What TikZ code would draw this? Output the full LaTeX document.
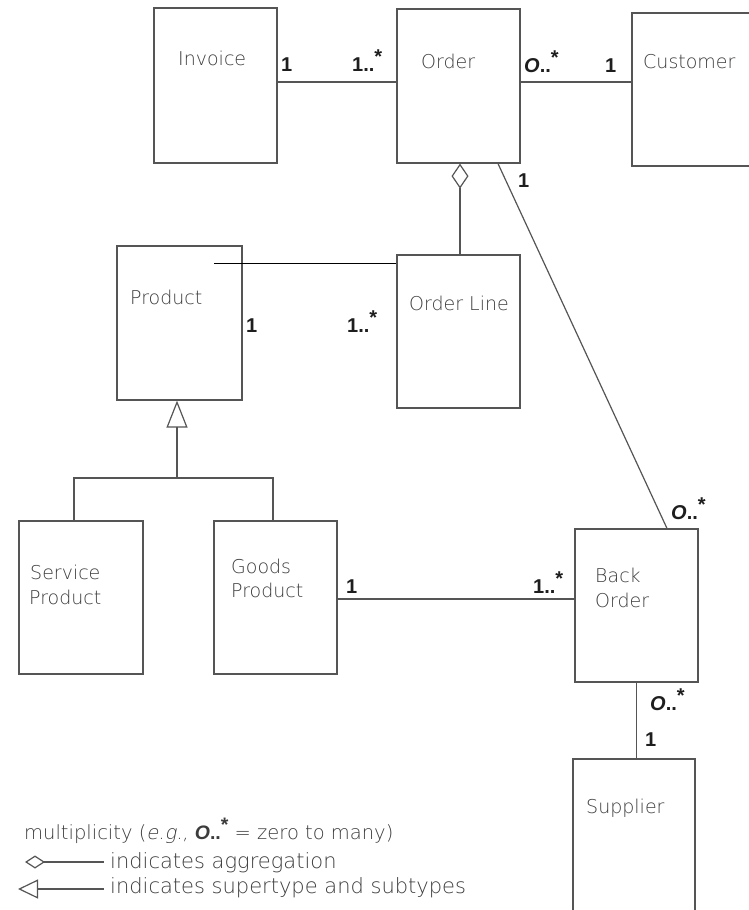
\documentclass[tikz,border=0pt]{standalone}
\usepackage{fontspec}
\usetikzlibrary{arrows.meta}
\newfontfamily\handfont{DejaVu Sans ExtraLight}
\newfontfamily\handitfont{DejaVu Sans ExtraLight}[FakeSlant=0.2]
\newfontfamily\multfont{Liberation Sans}
\definecolor{boxgray}{HTML}{555555}
\definecolor{textgray}{HTML}{3C3C3C}
\definecolor{multgray}{HTML}{1E1E1E}
% multiplicity marks
\newcommand\many{..\raisebox{0.38em}{*}}
\newcommand\oneof{1\many}
\newcommand\zeroof{{\itshape O}\many}
\tikzset{
  cls/.style={draw=boxgray, line width=1.2pt, rectangle, inner sep=0pt, fill=none},
  conn/.style={draw=boxgray, line width=1.2pt},
  hand/.style={anchor=base west, inner sep=0pt, text=textgray,
    font=\handfont\fontsize{19}{22}\selectfont},
  legend/.style={hand, font=\handfont\fontsize{21}{24}\selectfont},
  mult/.style={anchor=base west, inner sep=0pt, text=multgray,
    font=\multfont\bfseries\fontsize{20}{22}\selectfont},
}
\begin{document}
\begin{tikzpicture}[x=1pt,y=-1pt]
\clip (0,0) rectangle (749,910);
\fill[white] (0,0) rectangle (749,910);

% classes
\node[cls, minimum width=123pt, minimum height=155pt] (inv)   at (215.5,85.5) {};
\node[cls, minimum width=123pt, minimum height=154pt] (ord)   at (458.5,86)   {};
\node[cls, minimum width=148pt, minimum height=153pt] (cust)  at (706,89.5)   {};
\node[cls, minimum width=125pt, minimum height=154pt] (prod)  at (179.5,323)  {};
\node[cls, minimum width=123pt, minimum height=153pt] (oline) at (458.5,331.5) {};
\node[cls, minimum width=124pt, minimum height=153pt] (serv)  at (81,597.5)   {};
\node[cls, minimum width=123pt, minimum height=153pt] (goods) at (275.5,597.5) {};
\node[cls, minimum width=123pt, minimum height=153pt] (back)  at (636.5,605.5) {};
\node[cls, minimum width=122pt, minimum height=153pt] (supp)  at (634,835.5)  {};

% class names
\node[hand] (invT)   at (178,65)  {Invoice};
\node[hand] (ordT)   at (421,68)  {Order};
\node[hand] (custT)  at (643,68)  {Customer};
\node[hand] (prodT)  at (130,304) {Product};
\node[hand] (olineT) at (409,310) {Order Line};
\node[hand] (servT)  at (30,579)  {Service};
\node[hand] (servU)  at (29,604)  {Product};
\node[hand] (goodsT) at (231,573) {Goods};
\node[hand] (goodsU) at (231,597) {Product};
\node[hand] (backT)  at (595,582) {Back};
\node[hand] (backU)  at (595,607) {Order};
\node[hand] (suppT)  at (586,813) {Supplier};

% associations
\coordinate (rowA) at (0,82);
\coordinate (rowB) at (0,599);
\coordinate (aggx) at (460,0);
\draw[conn] (inv.east |- rowA) -- (ord.west |- rowA);
\draw[conn] (ord.east |- rowA) -- (cust.west |- rowA);
\draw[conn, {Diamond[open, length=25pt, width=17pt]}-] (ord.south -| aggx) -- (oline.north -| aggx);
\draw[conn] ([xshift=39.5pt]ord.south) -- ([xshift=30.5pt]back.north);
\coordinate (pl) at ([xshift=34.5pt,yshift=-18pt]prod.north);
\draw[black, line width=1.5pt] (pl) -- (pl -| oline.west);
\draw[conn] (goods.east |- rowB) -- (back.west |- rowB);
\draw[conn] (back.south) -- (back.south |- supp.north);

% generalisation
\coordinate (hub) at (177,478);
\draw[conn, -{Triangle[open, length=27pt, width=21pt]}] (hub) -- (hub |- prod.south);
\draw[conn] ([xshift=-7pt]serv.north) |- (hub) -| ([xshift=-2.5pt]goods.north);

% multiplicities
\node[mult] (m1)  at (281,71)  {1};
\node[mult] (m2)  at (352,71)  {\oneof};
\node[mult] (m3)  at (524,72)  {\zeroof};
\node[mult] (m4)  at (605,72)  {1};
\node[mult] (m5)  at (518,187) {1};
\node[mult] (m6)  at (246,332) {1};
\node[mult] (m7)  at (347,332) {\oneof};
\node[mult] (m8)  at (671,519) {\zeroof};
\node[mult] (m9)  at (346,593) {1};
\node[mult] (m10) at (533,593) {\oneof};
\node[mult] (m11) at (650,710) {\zeroof};
\node[mult] (m12) at (645,746) {1};

% legend
\node[hand, font=\handfont\fontsize{19.5}{22}\selectfont] (lg1) at (24,839)
  {multiplicity ({\handitfont e.g.,} {\multfont\bfseries\zeroof} = zero to many)};
\coordinate (lgA) at (25,862);
\coordinate (lgB) at (104,862);
\draw[conn, {Diamond[open, length=20pt, width=13pt]}-] (lgA) -- (lgB);
\node[legend] (lg2) at (110,868) {indicates aggregation};
\coordinate (lgC) at (18,889);
\coordinate (lgD) at (104,889);
\draw[conn, {Triangle[open, length=20pt, width=19pt]}-] (lgC) -- (lgD);
\node[legend] (lg3) at (110,893) {indicates supertype and subtypes};
\end{tikzpicture}
\end{document}
